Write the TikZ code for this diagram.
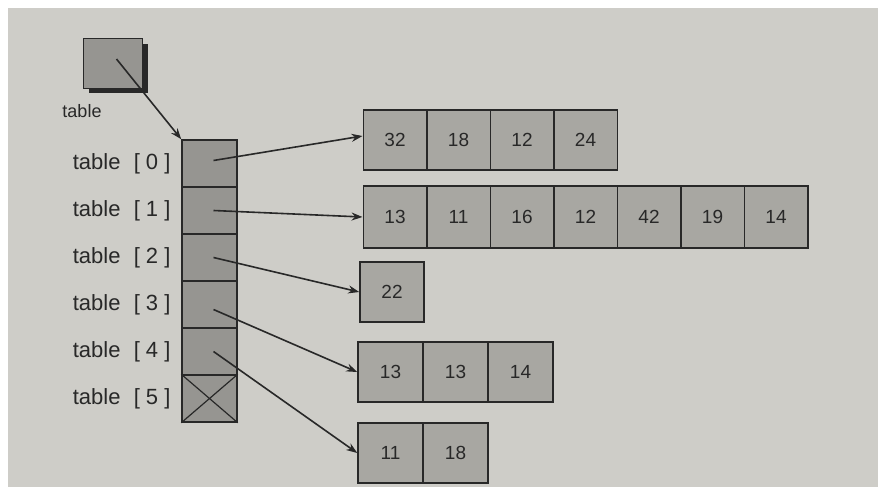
\documentclass[tikz,border=0pt]{standalone}
\usepackage{fontspec}
\setmainfont{Liberation Sans}
\usetikzlibrary{arrows.meta}
\definecolor{paper}{RGB}{206,205,200}
\definecolor{cellg}{RGB}{168,167,162}
\definecolor{colg}{RGB}{150,149,145}
\definecolor{ink}{RGB}{40,40,40}
\begin{document}
\begin{tikzpicture}[x=1pt,y=-1pt,
  cell/.style={draw=ink, line width=1.5pt, fill=cellg, minimum width=63.5pt, minimum height=60pt, inner sep=0pt, font=\fontsize{19}{22}\selectfont, text=ink},
  colcell/.style={draw=ink, line width=1.5pt, fill=colg, minimum width=55pt, minimum height=47pt, inner sep=0pt},
  lbl/.style={anchor=east, font=\fontsize{22}{25}\selectfont, text=ink},
  ptrarrow/.style={draw=ink, line width=1.6pt, -{Stealth[length=11pt,width=8pt]}}]
\useasboundingbox (0,0) rectangle (880,495);
\fill[white] (0,0) rectangle (880,495);
\fill[paper] (8,8) rectangle (878,487);
% pointer box
\fill[ink] (89,44) rectangle (148,93);
\node[draw=ink, line width=0.8pt, fill=colg, minimum width=59pt, minimum height=50pt, inner sep=0pt] (ptr) at (112.5,63) {};
\node[font=\fontsize{18}{20}\selectfont, text=ink] (ptrlbl) at (82,111) {table};
% column
\foreach \i/\y in {0/163.5,1/210.5,2/257.5,3/304.5,4/351.5,5/398.5}{
  \node[colcell] (c\i) at (209.5,\y) {};
  \node[lbl] (l\i) at (174,\y) {table\hspace{0.6em}[ \i\ ]};
}
\draw[ink, line width=1.2pt] (c5.north west) -- (c5.south east) (c5.north east) -- (c5.south west);
% rows
\foreach \v [count=\k from 0] in {32,18,12,24}{
  \node[cell] (r0\k) at (395+63.5*\k,140) {\v};}
\foreach \v [count=\k from 0] in {13,11,16,12,42,19,14}{
  \node[cell, minimum height=62pt] (r1\k) at (395+63.5*\k,217) {\v};}
\node[cell, minimum width=64pt] (r20) at (392,292) {22};
\foreach \v [count=\k from 0] in {13,13,14}{
  \node[cell, minimum width=65pt] (r3\k) at (390.5+65*\k,372) {\v};}
\foreach \v [count=\k from 0] in {11,18}{
  \node[cell, minimum width=65pt] (r4\k) at (390.5+65*\k,453) {\v};}
% arrows
\draw[ptrarrow] ([xshift=4pt,yshift=4pt]ptr.center) -- (c0.north west);
\draw[ptrarrow] ([xshift=4pt,yshift=3pt]c0.center) -- ([yshift=4pt]r00.west);
\draw[ptrarrow] ([xshift=4pt]c1.center) -- (r10.west);
\draw[ptrarrow] ([xshift=4pt]c2.center) -- (r20.west);
\draw[ptrarrow] ([xshift=4pt,yshift=-5pt]c3.center) -- (r30.west);
\draw[ptrarrow] ([xshift=4pt]c4.center) -- (r40.west);
\end{tikzpicture}
\end{document}
